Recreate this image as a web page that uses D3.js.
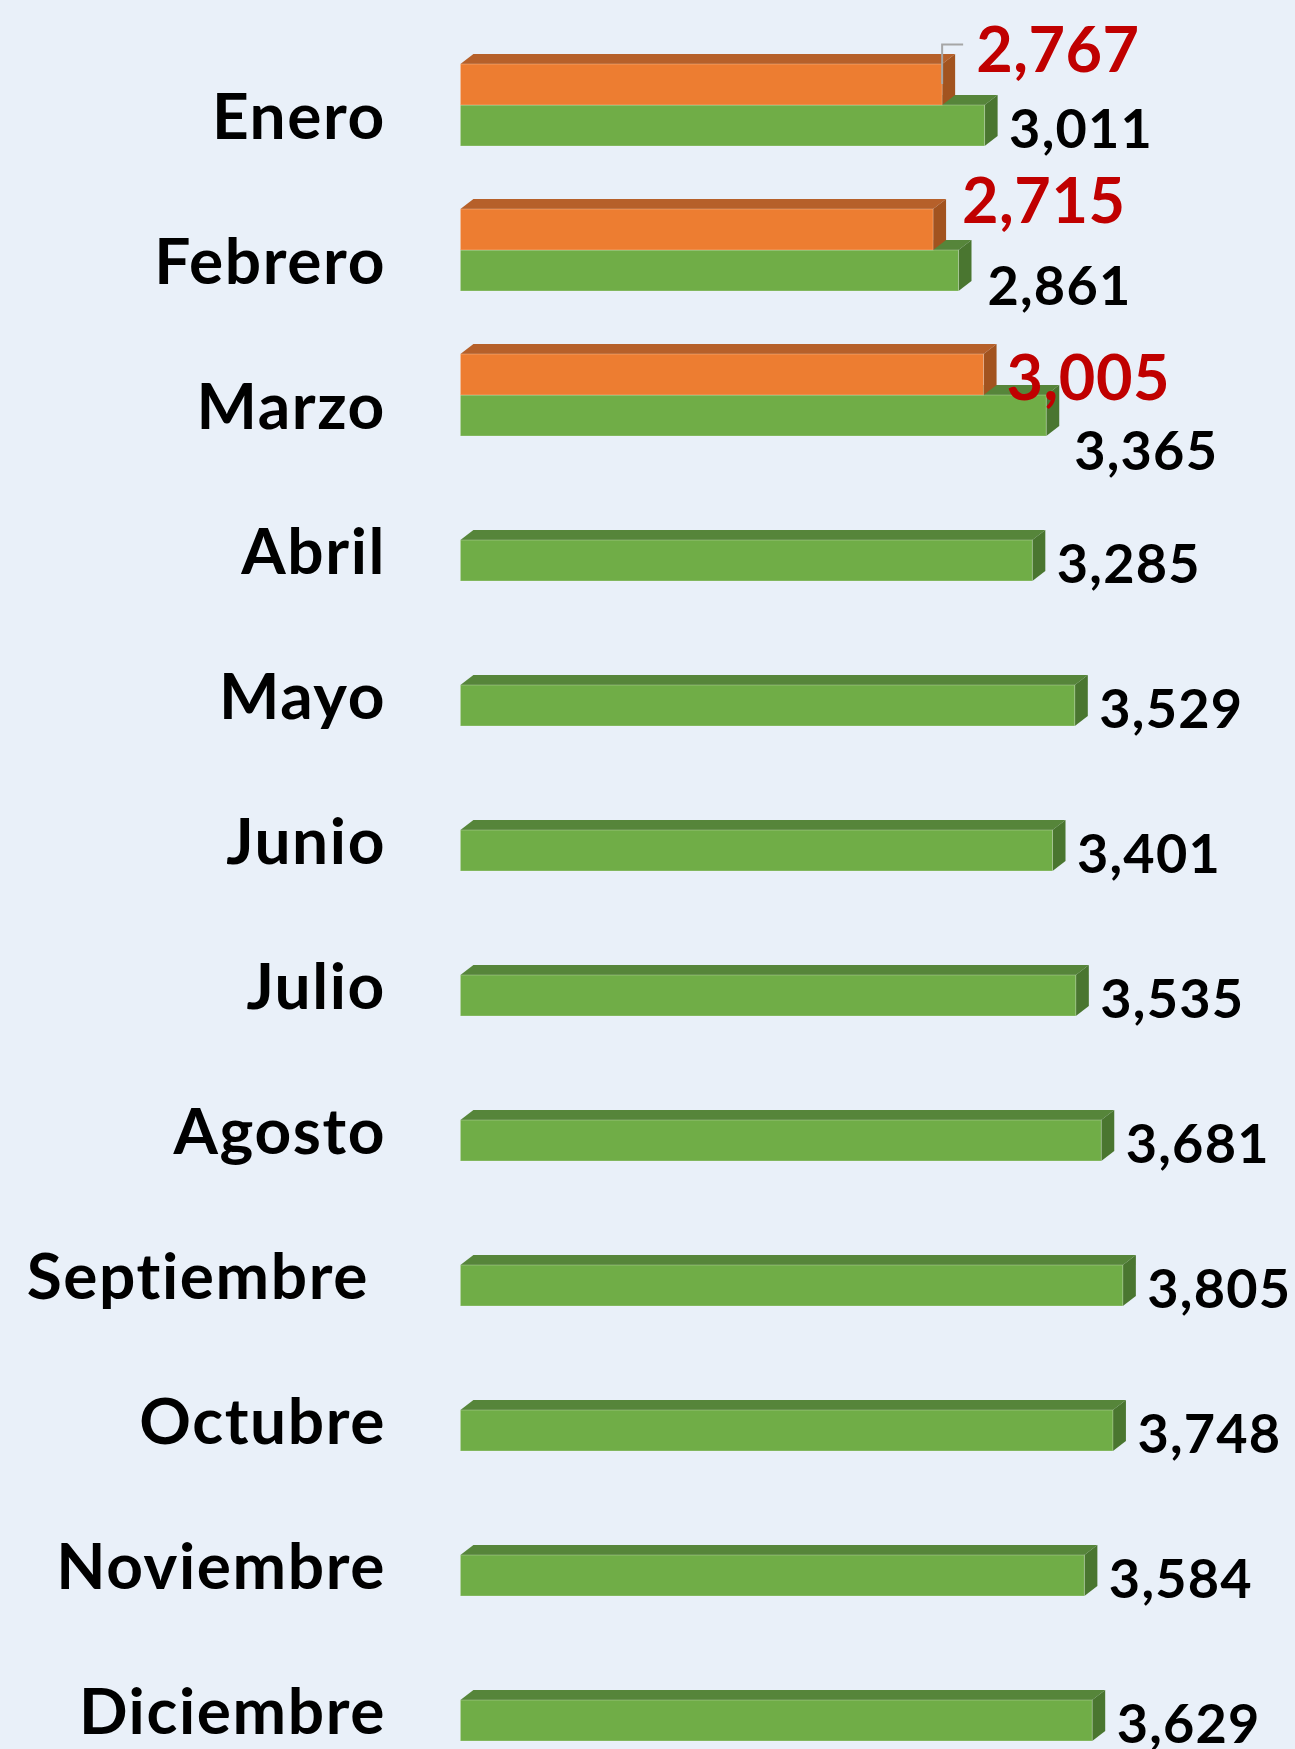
<!DOCTYPE html>
<html>
<head>
<meta charset="utf-8">
<script src="https://cdn.jsdelivr.net/npm/d3@7/dist/d3.min.js"></script>
<style>
  body { margin: 0; background: #E9F0F9; }
  text { font-family: Lato, "Open Sans", sans-serif; font-weight: 700; }
</style>
</head>
<body>
<div id="viz_area"></div>
<script>
// months (categories)
var meses = ["Enero", "Febrero", "Marzo", "Abril", "Mayo", "Junio",
             "Julio", "Agosto", "Septiembre", "Octubre", "Noviembre", "Diciembre"];

// green series, one value per month
var serieVerde = [3011, 2861, 3365, 3285, 3529, 3401, 3535, 3681, 3805, 3748, 3584, 3629];

// orange series, only the first three months
var serieNaranja = [2767, 2715, 3005];

// sub-series order inside each month band (orange on top, green below)
var series = ["naranja", "verde"];

function __init__() {
    barChart();
}

function barChart() {
    var w = 1295;
    var h = 1749;
    var depthX = 13, depthY = 10;   // fake 3d depth

    var svg = d3.select("#viz_area")
                .append("svg")
                .attr("width", w)
                .attr("height", h);

    svg.append("rect")
       .attr("width", w)
       .attr("height", h)
       .attr("fill", "#E9F0F9");

    // scales
    var x = d3.scaleLinear()
              .domain([0, 4000])
              .range([460.4, 1156.8]);

    var pad = 63 / 145;
    var y = d3.scaleBand()
              .domain(meses)
              .range([32.5, 1772.5])
              .paddingInner(pad)
              .paddingOuter(pad / 2);

    var ySub = d3.scaleBand()
                 .domain(series)
                 .range([0, y.bandwidth()]);

    var colors = {
        verde:   { front: "#70AD47", top: "#56853A", side: "#4A7630" },
        naranja: { front: "#ED7D31", top: "#B6602A", side: "#A2531F" }
    };

    var fmt = d3.format(",");

    // build rows from the arrays
    var rows = [];
    meses.forEach(function(m, i) {
        rows.push({ mes: m, serie: "verde", value: serieVerde[i] });
    });
    serieNaranja.forEach(function(v, i) {
        rows.push({ mes: meses[i], serie: "naranja", value: v });
    });

    // draw one 3d bar
    function bar3d(g, d) {
        var x0 = x(0), x1 = x(d.value);
        var t = y(d.mes) + ySub(d.serie);
        var b = t + ySub.bandwidth();
        var c = colors[d.serie];

        g.append("polygon")
         .attr("points", [[x0, t], [x0 + depthX, t - depthY], [x1 + depthX, t - depthY], [x1, t]].join(" "))
         .attr("fill", c.top);
        g.append("polygon")
         .attr("points", [[x1, t], [x1 + depthX, t - depthY], [x1 + depthX, b - depthY], [x1, b]].join(" "))
         .attr("fill", c.side);
        g.append("rect")
         .attr("x", x0)
         .attr("y", t)
         .attr("width", x1 - x0)
         .attr("height", b - t)
         .attr("fill", c.front)
         .style("stroke", "rgba(255,255,255,0.25)")
         .style("stroke-width", 1);
    }

    var barsG = svg.append("g");
    // green first so the orange bars sit over the green top faces
    rows.filter(function(d) { return d.serie == "verde"; }).forEach(function(d) { bar3d(barsG, d); });
    rows.filter(function(d) { return d.serie == "naranja"; }).forEach(function(d) { bar3d(barsG, d); });

    // month labels
    var monthNudge = { "Septiembre": -17 };
    svg.append("g")
       .selectAll("text")
       .data(meses)
       .enter()
       .append("text")
       .attr("x", function(d) { return 386 + (monthNudge[d] || 0); })
       .attr("y", function(d) { return y(d) + y.bandwidth() - 7.4; })
       .attr("text-anchor", "end")
       .style("font-size", "64px")
       .style("letter-spacing", "1.6px")
       .attr("fill", "#000")
       .text(function(d) { return d; });

    // value labels (some were moved by hand in the original)
    var labelNudge = {
        "verde-Febrero":   [4.5, 12.5],
        "verde-Marzo":     [3.5, 32.5],
        "naranja-Enero":   [11, -38],
        "naranja-Febrero": [6, -32.4]
    };

    svg.append("g")
       .selectAll("text")
       .data(rows)
       .enter()
       .append("text")
       .attr("x", function(d) {
           var n = labelNudge[d.serie + "-" + d.mes] || [0, 0];
           return x(d.value) + (d.serie == "verde" ? 24.5 : 23) + n[0];
       })
       .attr("y", function(d) {
           var n = labelNudge[d.serie + "-" + d.mes] || [0, 0];
           var b = y(d.mes) + ySub(d.serie) + ySub.bandwidth();
           return b + (d.serie == "verde" ? 1.6 : 5) + n[1];
       })
       .style("font-size", function(d) { return d.serie == "verde" ? "54px" : "63px"; })
       .style("letter-spacing", function(d) { return d.serie == "verde" ? "1.2px" : "0.5px"; })
       .attr("fill", function(d) { return d.serie == "verde" ? "#000" : "#C00000"; })
       .text(function(d) { return fmt(d.value); });

    // leader line for the January orange label
    var jan = rows.filter(function(d) { return d.serie == "naranja" && d.mes == "Enero"; })[0];
    var n = labelNudge["naranja-Enero"];
    var lx = x(jan.value) + 23 + n[0];
    var lb = y(jan.mes) + ySub(jan.serie) + ySub.bandwidth() + 5 + n[1];
    var bx = x(jan.value);
    var by = y(jan.mes) + ySub(jan.serie) + ySub.bandwidth() - 21;
    svg.append("path")
       .attr("d", "M" + bx + "," + by + "V" + (lb - 27.5) + "H" + (lx - 13))
       .attr("fill", "none")
       .style("stroke", "#A6A6A6")
       .style("stroke-width", 2);
}

window.onload = __init__;
</script>
</body>
</html>
